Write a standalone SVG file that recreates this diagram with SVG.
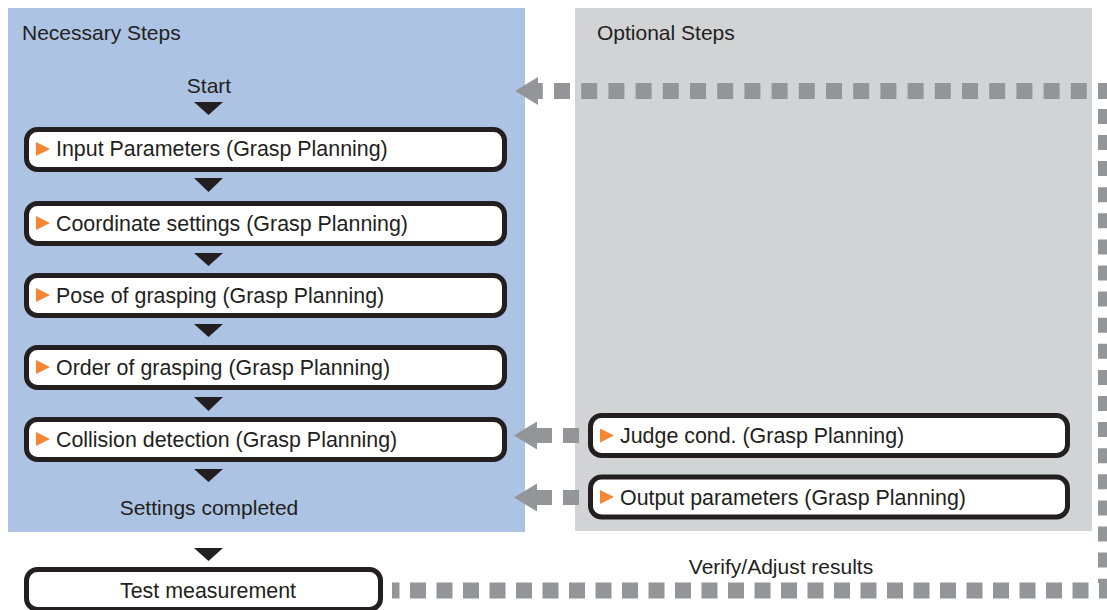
<svg xmlns="http://www.w3.org/2000/svg" width="1107" height="610" viewBox="0 0 1107 610">
<style>
  text { font-family: "Liberation Sans", Arial, sans-serif; font-size: 21px; fill: #231f20; }
  .lbl { font-size: 21.4px; }
  .box { fill: #ffffff; stroke: #231f20; stroke-width: 5; }
  .tri { fill: #231f20; }
  .ot { fill: #f58634; }
  .dash { fill: none; stroke: #939598; stroke-width: 16; }
  .ar { fill: #939598; }
</style>
<rect id="panel-necessary" x="8" y="8" width="517" height="524" fill="#adc3e3"/>
<rect id="panel-optional" x="575" y="8" width="517" height="523" fill="#d1d3d4"/>
<text x="22" y="40">Necessary Steps</text>
<text x="597" y="40">Optional Steps</text>
<g id="start"><text x="209" y="93" text-anchor="middle">Start</text></g>
<g id="n1"><rect class="box" x="26.5" y="129.5" width="478" height="40" rx="11"/><polygon class="ot" points="36,142 50,149 36,156"/><text class="lbl" x="56" y="156">Input Parameters (Grasp Planning)</text></g>
<g id="n2"><rect class="box" x="26.5" y="203.5" width="478" height="40" rx="11"/><polygon class="ot" points="36,216 50,223 36,230"/><text class="lbl" x="56" y="231">Coordinate settings (Grasp Planning)</text></g>
<g id="n3"><rect class="box" x="26.5" y="275.5" width="478" height="40" rx="11"/><polygon class="ot" points="36,288 50,295 36,302"/><text class="lbl" x="56" y="303">Pose of grasping (Grasp Planning)</text></g>
<g id="n4"><rect class="box" x="26.5" y="347.5" width="478" height="40" rx="11"/><polygon class="ot" points="36,360 50,367 36,374"/><text class="lbl" x="56" y="375">Order of grasping (Grasp Planning)</text></g>
<g id="n5"><rect class="box" x="26.5" y="419.5" width="478" height="40" rx="11"/><polygon class="ot" points="36,432 50,439 36,446"/><text class="lbl" x="56" y="447">Collision detection (Grasp Planning)</text></g>
<g id="done"><text x="209" y="515" text-anchor="middle">Settings completed</text></g>
<g id="test"><rect class="box" x="26.5" y="569.5" width="354" height="40" rx="11"/><text class="lbl" x="208" y="598" text-anchor="middle">Test measurement</text></g>
<g id="judge"><rect class="box" x="590.5" y="415.5" width="477" height="40" rx="11"/><polygon class="ot" points="600,428.5 614,435.5 600,442.5"/><text class="lbl" x="620" y="443">Judge cond. (Grasp Planning)</text></g>
<g id="output"><rect class="box" x="590.5" y="477" width="477" height="40" rx="11"/><polygon class="ot" points="600,490 614,497 600,504"/><text class="lbl" x="620" y="505">Output parameters (Grasp Planning)</text></g>
<text x="781" y="574" text-anchor="middle">Verify/Adjust results</text>
<g id="connectors">
  <polygon class="tri" points="194,102 223,102 208.5,115"/>
  <polygon class="tri" points="194,178 223,178 208.5,192"/>
  <polygon class="tri" points="194,253 223,253 208.5,266"/>
  <polygon class="tri" points="194,324 223,324 208.5,337"/>
  <polygon class="tri" points="194,397 223,397 208.5,411"/>
  <polygon class="tri" points="194,469 223,469 208.5,482"/>
  <polygon class="tri" points="194,548 223,548 208.5,561"/>
  <path class="dash" d="M392,590.5 H1114" stroke-dasharray="16 10.5" stroke-dashoffset="8.5"/>
  <path class="dash" d="M1106,105 V583" stroke-dasharray="15 11.1" stroke-dashoffset="22.2"/>
  <path class="dash" d="M1114,91 H538" stroke-dasharray="16 11.2"/>
  <polygon class="ar" points="515,91 538,77 538,105"/>
  <polygon class="ar" points="514,435.5 537,421.5 537,428 552,428 552,443 537,443 537,449.5"/>
  <rect class="ar" x="563" y="428" width="16" height="15"/>
  <polygon class="ar" points="514,497.5 537,483.5 537,490 552,490 552,505 537,505 537,511.5"/>
  <rect class="ar" x="563" y="490" width="16" height="15"/>
</g>
</svg>
